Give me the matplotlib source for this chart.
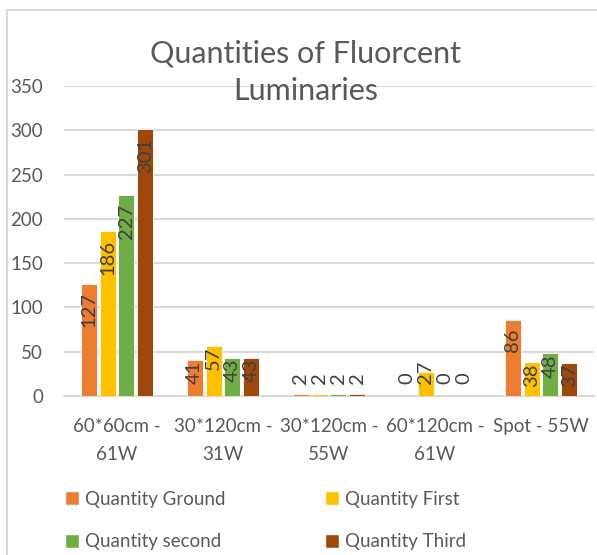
import numpy as np
import matplotlib.pyplot as plt
from matplotlib.patches import Patch
from matplotlib.lines import Line2D

plt.rcParams['font.family'] = ['Lato', 'DejaVu Sans']

categories = ['60*60cm -\n61W', '30*120cm -\n31W', '30*120cm -\n55W',
              '60*120cm -\n61W', 'Spot - 55W']
series_names = ['Quantity Ground', 'Quantity First', 'Quantity second', 'Quantity Third']
ground = [127, 41, 2, 0, 86]
first = [186, 57, 2, 27, 38]
second = [227, 43, 2, 0, 48]
third = [301, 43, 2, 0, 37]
colors = ['#ED7D31', '#FFC000', '#70AD47', '#9E480E']

grey = '#595959'
fig = plt.figure(figsize=(5.97, 5.55), dpi=100)
ax = fig.add_axes([64 / 597, 159 / 555, 530 / 597, 310 / 555])

x = np.arange(len(categories))
slot = 0.179
width = 0.151
for i, (vals, col) in enumerate(zip([ground, first, second, third], colors)):
    pos = x + (i - 1.5) * slot
    ax.bar(pos, vals, width, color=col, edgecolor='white', linewidth=0.6, zorder=3)
    for p, v in zip(pos, vals):
        if v >= 80:
            ax.text(p, v - 10, str(v), rotation=90, ha='center', va='top',
                    fontsize=14.5, color='#404040', zorder=4)
        elif v >= 35:
            ax.text(p, v - 1, str(v), rotation=90, ha='center', va='top',
                    fontsize=14.5, color='#404040', zorder=4)
        else:
            ax.text(p, 14, str(v), rotation=90, ha='center', va='bottom',
                    fontsize=14.5, color='#404040', zorder=4)

ax.set_xlim(-0.5, len(categories) - 0.5)
ax.set_ylim(0, 350)
ax.set_yticks(np.arange(0, 351, 50))
ax.set_xticks(x)
ax.set_xticklabels(categories, fontsize=13.5, color=grey, linespacing=1.75)
ax.tick_params(axis='y', labelsize=13.5, labelcolor=grey, length=0, pad=15)
ax.tick_params(axis='x', length=0, pad=16)
ax.yaxis.grid(True, color='#d9d9d9', linewidth=1.5, zorder=0)
for s in ['top', 'right', 'left']:
    ax.spines[s].set_visible(False)
ax.spines['bottom'].set_color('#d9d9d9')
ax.spines['bottom'].set_linewidth(1.5)

fig.text(306 / 597, 1 - 72 / 555, 'Quantities of Fluorcent\nLuminaries', ha='center',
         va='center', fontsize=22, color=grey, linespacing=1.42)

# chart area border (left and top edges)
fig.add_artist(Line2D([7 / 597, 7 / 597], [0, 1 - 10 / 555], color='#d9d9d9', linewidth=1.5))
fig.add_artist(Line2D([7 / 597, 1], [1 - 10 / 555, 1 - 10 / 555], color='#d9d9d9', linewidth=1.5))

handles = [Patch(facecolor=c, edgecolor='white') for c in colors]
for col_x, idx in [(48, [0, 2]), (308, [1, 3])]:
    leg = fig.legend([handles[i] for i in idx], [series_names[i] for i in idx],
                     loc='upper left', bbox_to_anchor=(col_x / 597, 1 - 474 / 555),
                     frameon=False, fontsize=13.5, handlelength=0.75, handleheight=0.75,
                     handletextpad=0.3, labelspacing=1.35, labelcolor=grey)

fig.savefig('out.png', dpi=100)
